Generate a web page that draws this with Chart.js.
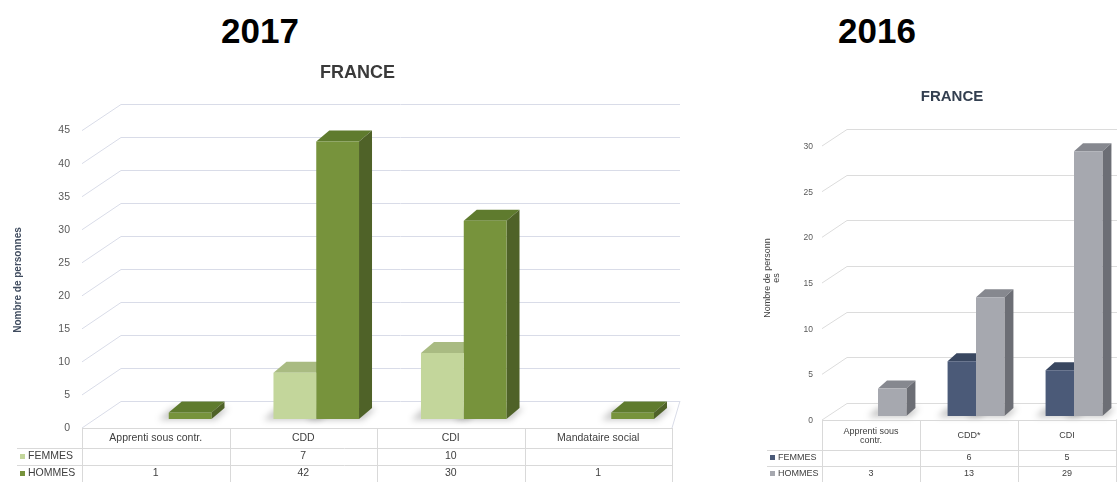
<!DOCTYPE html>
<html>
<head>
<meta charset="utf-8">
<script src="https://cdn.jsdelivr.net/npm/chart.js@4.4.1/dist/chart.umd.min.js"></script>
<style>
  html, body { margin: 0; padding: 0; width: 1117px; height: 482px; overflow: hidden; background: #fff; }
  .year { position: absolute; top: 11px; width: 200px; text-align: center; line-height: 35px;
          font: bold 35px "Liberation Sans", sans-serif; color: #000; }
  canvas { position: absolute; top: 50px; }
</style>
</head>
<body>
<div class="year" style="left:160px">2017</div>
<div class="year" style="left:777px">2016</div>
<canvas id="chart2017" width="740" height="432" style="left:0"></canvas>
<canvas id="chart2016" width="420" height="432" style="left:740px"></canvas>
<script>
// 2017
const categories2017 = ['Apprenti sous contr.', 'CDD', 'CDI', 'Mandataire social'];
const femmes2017 = [null, 7, 10, null];
const hommes2017 = [1, 42, 30, 1];
const yMax2017 = 45;

// 2016
const categories2016 = [['Apprenti sous', 'contr.'], 'CDD*', 'CDI'];
const femmes2016 = [null, 6, 5];
const hommes2016 = [3, 13, 29];
const yMax2016 = 30;

const yStep = 5;

// Fake 3D look: back wall grid, side faces, top faces and the data table under the plot
const excel3d = {
  id: 'excel3d',
  beforeDatasetsDraw(chart, args, o) {
    const { ctx, chartArea: ca, scales: { y } } = chart;
    const backL = ca.left + o.back.dx, backR = ca.right + o.back.dxRight;
    const frontL = ca.left - o.front.dx, frontR = ca.right - o.front.dx;
    ctx.save();
    ctx.strokeStyle = o.gridColor;
    ctx.lineWidth = 1;
    y.ticks.forEach(t => {
      const py = y.getPixelForValue(t.value);
      const by = Math.round(py - o.back.dy) + 0.5;
      ctx.beginPath();
      ctx.moveTo(frontL, py + o.front.dy);
      ctx.lineTo(backL, by);
      ctx.lineTo(backR, by);
      ctx.stroke();
    });
    // right edge of the floor
    const y0 = y.getPixelForValue(0);
    ctx.beginPath();
    ctx.moveTo(frontR, y0 + o.front.dy);
    ctx.lineTo(backR, y0 - o.back.dy);
    ctx.stroke();

    const dx = o.depth.dx, dy = o.depth.dy;
    chart.data.datasets.forEach((ds, i) => {
      const c = o.faces[i];
      chart.getDatasetMeta(i).data.forEach((bar, j) => {
        if (ds.data[j] == null) return;
        const { x, y: top, base, width } = bar.getProps(['x', 'y', 'base', 'width'], true);
        const l = x - width / 2, r = x + width / 2;
        // soft shadow on the floor
        ctx.save();
        ctx.filter = 'blur(3px)';
        ctx.fillStyle = 'rgba(0,0,0,0.22)';
        ctx.beginPath();
        ctx.moveTo(l - 10, base + 1);
        ctx.lineTo(r + 4, base + 1);
        ctx.lineTo(r + dx + 4, base - dy);
        ctx.lineTo(l + dx - 10, base - dy);
        ctx.closePath();
        ctx.fill();
        ctx.restore();
        // top face
        ctx.fillStyle = c.top;
        ctx.beginPath();
        ctx.moveTo(l, top);
        ctx.lineTo(l + dx, top - dy);
        ctx.lineTo(r + dx, top - dy);
        ctx.lineTo(r, top);
        ctx.closePath();
        ctx.fill();
        // side face
        ctx.fillStyle = c.side;
        ctx.beginPath();
        ctx.moveTo(r, top);
        ctx.lineTo(r + dx, top - dy);
        ctx.lineTo(r + dx, base - dy);
        ctx.lineTo(r, base);
        ctx.closePath();
        ctx.fill();
      });
    });
    ctx.restore();
  },
  afterDraw(chart, args, o) {
    const { ctx, chartArea: ca, scales: { y } } = chart;
    const t = o.table;
    const labels = chart.data.labels;
    const frontL = ca.left - o.front.dx, frontR = ca.right - o.front.dx;
    const colW = (frontR - frontL) / labels.length;
    const top = Math.round(y.getPixelForValue(0) + o.front.dy);
    const row1 = top + t.headH, row2 = row1 + t.rowH, bottom = row2 + t.rowH;

    ctx.save();
    ctx.strokeStyle = t.lineColor;
    ctx.lineWidth = 1;
    ctx.beginPath();
    ctx.moveTo(frontL, top + 0.5);
    ctx.lineTo(frontR, top + 0.5);
    [row1, row2].forEach(ry => {
      ctx.moveTo(t.left, ry + 0.5);
      ctx.lineTo(frontR, ry + 0.5);
    });
    for (let k = 0; k <= labels.length; k++) {
      const cx = Math.round(frontL + k * colW) + 0.5;
      ctx.moveTo(cx, top);
      ctx.lineTo(cx, bottom);
    }
    ctx.stroke();

    ctx.font = t.font;
    ctx.fillStyle = t.color;
    ctx.textAlign = 'center';
    ctx.textBaseline = 'middle';
    labels.forEach((lab, k) => {
      const lines = [].concat(lab);
      const cx = frontL + (k + 0.5) * colW;
      lines.forEach((ln, m) => {
        ctx.fillText(ln, cx, top + t.headTextY + (m - (lines.length - 1) / 2) * t.lineH);
      });
    });

    chart.data.datasets.forEach((ds, i) => {
      const cy = (i === 0 ? row1 : row2) + t.rowH / 2;
      ctx.fillStyle = ds.backgroundColor;
      ctx.fillRect(t.left + 3, Math.round(cy) - 3, 5, 5);
      ctx.fillStyle = t.color;
      ctx.textAlign = 'left';
      ctx.fillText(ds.label, t.left + 11, cy);
      ctx.textAlign = 'center';
      ds.data.forEach((v, k) => {
        if (v != null) ctx.fillText(String(v), frontL + (k + 0.5) * colW, cy);
      });
    });

    // y axis title
    const a = o.axisTitle;
    ctx.translate(a.x, a.y);
    ctx.rotate(-Math.PI / 2);
    ctx.font = a.font;
    ctx.fillStyle = a.color;
    a.lines.forEach((ln, m) => ctx.fillText(ln, 0, m * a.lineH));
    ctx.restore();
  }
};

function baseOptions(yMax, sizes) {
  return {
    responsive: false,
    animation: false,
    layout: { padding: { left: sizes.padLeft, right: sizes.padRight, top: 0, bottom: sizes.padBottom } },
    datasets: { bar: { categoryPercentage: 0.58, barPercentage: 1, borderWidth: 0 } },
    scales: {
      x: { display: false },
      y: {
        min: 0,
        max: yMax,
        grid: { display: false, drawTicks: false },
        border: { display: false },
        ticks: {
          stepSize: yStep,
          padding: sizes.tickPad,
          labelOffset: sizes.labelOffset,
          color: '#595959',
          font: { family: 'Liberation Sans', size: sizes.tickSize }
        },
        afterFit: s => { s.width = sizes.axisWidth; }
      }
    }
  };
}

// plot starts at x=95; left padding only moves the centred title
const opts2017 = baseOptions(yMax2017, { padLeft: 30, padRight: 55, padBottom: 63, tickPad: 25, labelOffset: 9, tickSize: 10.5, axisWidth: 65 });
opts2017.plugins = {
  legend: { display: false },
  tooltip: { enabled: false },
  title: {
    display: true, text: 'FRANCE', color: '#3a3a3a',
    font: { family: 'Liberation Sans', size: 18, weight: 'bold' },
    padding: { top: 12, bottom: 38 }
  },
  excel3d: {
    gridColor: '#D9DCE8',
    front: { dx: 13, dy: 9 },
    back: { dx: 26, dy: 18, dxRight: -5 },
    depth: { dx: 13, dy: 11 },
    faces: [{ top: '#A9BB82', side: '#9CAE70' }, { top: '#5F7B2E', side: '#4F6228' }],
    table: { left: 17, headH: 20, rowH: 17, headTextY: 10, lineH: 10, lineColor: '#D9D9D9',
             font: '10.5px "Liberation Sans"', color: '#404040' },
    axisTitle: { x: 18, y: 230, lines: ['Nombre de personnes'], lineH: 10,
                 font: 'bold 10px "Liberation Sans"', color: '#3F4B5E' }
  }
};

new Chart(document.getElementById('chart2017'), {
  type: 'bar',
  data: {
    labels: categories2017,
    datasets: [
      { label: 'FEMMES', data: femmes2017, backgroundColor: '#C3D69B' },
      { label: 'HOMMES', data: hommes2017, backgroundColor: '#77933C' }
    ]
  },
  options: opts2017,
  plugins: [excel3d]
});

const opts2016 = baseOptions(yMax2016, { padLeft: 41, padRight: 37, padBottom: 66, tickPad: 16, labelOffset: 4.5, tickSize: 8.5, axisWidth: 48 });
opts2016.plugins = {
  legend: { display: false },
  tooltip: { enabled: false },
  title: {
    display: true, text: 'FRANCE', color: '#333F50',
    font: { family: 'Liberation Sans', size: 15, weight: 'bold' },
    padding: { top: 38, bottom: 36 }
  },
  excel3d: {
    gridColor: '#DCDCDC',
    front: { dx: 7, dy: 4 },
    back: { dx: 18, dy: 13, dxRight: 18 },
    depth: { dx: 9, dy: 8 },
    faces: [{ top: '#394760', side: '#2E3A50' }, { top: '#86888F', side: '#6C6E75' }],
    table: { left: 27, headH: 30, rowH: 16, headTextY: 16, lineH: 9, lineColor: '#D9D9D9',
             font: '9px "Liberation Sans"', color: '#404040' },
    axisTitle: { x: 28, y: 228, lines: ['Nombre de personn', 'es'], lineH: 9,
                 font: '9px "Liberation Sans"', color: '#404040' }
  }
};

new Chart(document.getElementById('chart2016'), {
  type: 'bar',
  data: {
    labels: categories2016,
    datasets: [
      { label: 'FEMMES', data: femmes2016, backgroundColor: '#4B5A78' },
      { label: 'HOMMES', data: hommes2016, backgroundColor: '#A6A8AF' }
    ]
  },
  options: opts2016,
  plugins: [excel3d]
});
</script>
</body>
</html>
